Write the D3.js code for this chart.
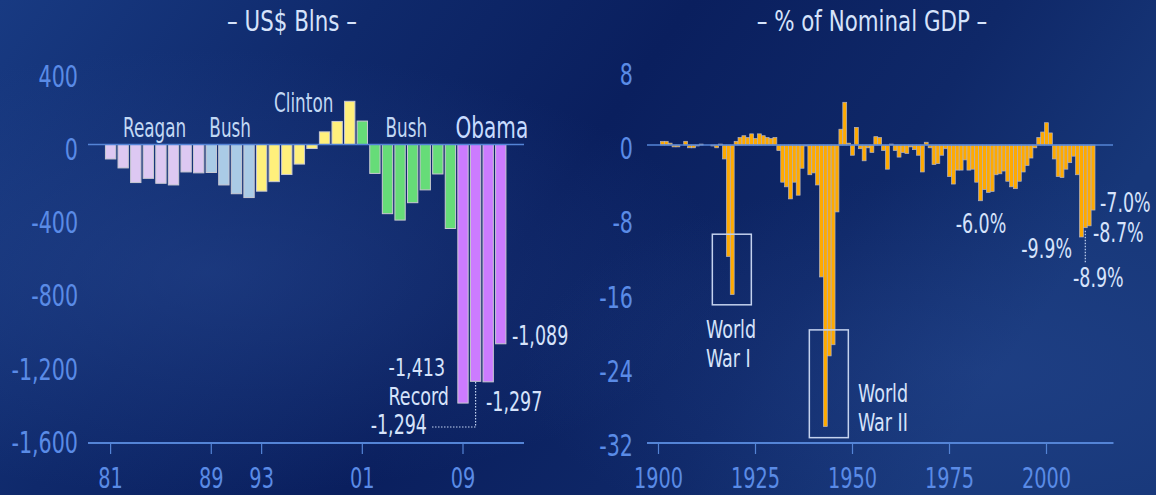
<!DOCTYPE html>
<html><head><meta charset="utf-8">
<script src="https://cdn.jsdelivr.net/npm/d3@7"></script>
<style>html,body{margin:0;padding:0;background:#0c2464;overflow:hidden}</style>
</head><body>
<svg id="c" width="1156" height="495"></svg>
<script>
// ---------- DATA ----------
const usYears = d3.range(1981, 2013);
const usDeficit = [-79, -128, -208, -185, -212, -221, -150, -155, -153, -221, -269, -290,
  -255, -203, -164, -107, -22, 69, 126, 236, 128, -158, -378, -413, -318, -248, -161, -459,
  -1413, -1294, -1297, -1089];
const presidents = ["Reagan", "Bush", "Clinton", "Bush", "Obama"];
const presFrom = [1981, 1989, 1993, 2001, 2009];
const presTo = [1988, 1992, 2000, 2008, 2012];
const usTickYears = [1981, 1989, 1993, 2001, 2009];
const usTickLabels = ["81", "89", "93", "01", "09"];
const usYTicks = [400, 0, -400, -800, -1200, -1600];

const gdpYears = d3.range(1901, 2013);
const gdpDeficit = [
  0.4, 0.4, 0.2, -0.2, -0.2, 0.0, 0.4, -0.3, -0.3, -0.1,       // 1901-1910
  0.1, 0.0, 0.0, -0.1, -0.3, 0.1, -1.5, -12.0, -16.1, 0.4,    // 1911-1920
  0.8, 1.0, 0.8, 1.2, 0.7, 1.2, 1.0, 0.8, 0.7, 0.8,           // 1921-1930
  -0.6, -4.0, -4.5, -5.8, -4.0, -5.4, -2.5, -0.1, -3.2, -3.0, // 1931-1940
  -4.3, -14.2, -30.3, -22.7, -21.5, -7.2, 1.7, 4.6, 0.2, -1.1,// 1941-1950
  1.9, -0.4, -1.7, -0.3, -0.8, 0.9, 0.8, -0.6, -2.6, 0.1,     // 1951-1960
  -0.6, -1.3, -0.8, -0.9, -0.2, -0.5, -1.1, -2.9, 0.3, -0.3,  // 1961-1970
  -2.1, -2.0, -1.1, -0.4, -3.4, -4.2, -2.7, -2.7, -1.6, -2.7, // 1971-1980
  -2.6, -4.0, -6.0, -4.8, -5.1, -5.0, -3.2, -3.1, -2.8, -3.9, // 1981-1990
  -4.5, -4.7, -3.9, -2.9, -2.2, -1.4, -0.3, 0.8, 1.4, 2.4,    // 1991-2000
  1.3, -1.5, -3.4, -3.5, -2.6, -1.9, -1.2, -3.2, -9.9, -8.9,  // 2001-2010
  -8.7, -7.0                                                   // 2011-2012
];
const gdpTickYears = [1900, 1925, 1950, 1975, 2000];
const gdpYTicks = [8, 0, -8, -16, -24, -32];

// ---------- STYLE ----------
const FONT = "'DejaVu Sans Condensed','Liberation Sans Narrow','DejaVu Sans',sans-serif";
const TXT = "#d6e3fb";
const TICK = "#5a8be6";
const AXIS = "#5484d6";
const presColors = ["#ddc8f2", "#aacbe6", "#fff07c", "#66dc78", "#cc7bff"];

const svg = d3.select("#c");

// background
const defs = svg.append("defs");
const lg = defs.append("linearGradient").attr("id", "bg").attr("x1", 0).attr("y1", 0).attr("x2", 1).attr("y2", 0.3);
[[0, "#183a82"], [0.3, "#0f296b"], [0.55, "#0a1f5e"], [0.8, "#0f2868"], [1, "#173779"]]
  .forEach(([o, c]) => lg.append("stop").attr("offset", o).attr("stop-color", c));
const rg = defs.append("radialGradient").attr("id", "glow").attr("cx", 0.18).attr("cy", 0.55).attr("r", 0.45);
rg.append("stop").attr("offset", 0).attr("stop-color", "#2a4c96").attr("stop-opacity", 0.45);
rg.append("stop").attr("offset", 1).attr("stop-color", "#2a4c96").attr("stop-opacity", 0);
const rg2 = defs.append("radialGradient").attr("id", "glow2").attr("cx", 0.85).attr("cy", 0.75).attr("r", 0.4);
rg2.append("stop").attr("offset", 0).attr("stop-color", "#2a4c96").attr("stop-opacity", 0.35);
rg2.append("stop").attr("offset", 1).attr("stop-color", "#2a4c96").attr("stop-opacity", 0);
svg.append("rect").attr("width", 1156).attr("height", 495).attr("fill", "url(#bg)");
svg.append("rect").attr("width", 1156).attr("height", 495).attr("fill", "url(#glow)");
svg.append("rect").attr("width", 1156).attr("height", 495).attr("fill", "url(#glow2)");

// condensed text helper (horizontal squeeze to mimic a condensed face)
// s may be an array of lines, drawn as tspans with line spacing lh
function text(g, x, y, s, size, color, anchor, sx, lh) {
  const t = g.append("text")
    .attr("transform", `translate(${x},${y}) scale(${sx || 0.72},1)`)
    .attr("font-family", FONT).attr("font-size", size).attr("fill", color)
    .attr("text-anchor", anchor || "middle");
  if (Array.isArray(s)) {
    s.forEach((line, i) => t.append("tspan").attr("x", 0).attr("y", i * (lh || 26)).text(line));
  } else t.text(s);
  return t;
}
const num = v => d3.format(",")(v).replace("−", "-");
const ANN = 27;      // annotation size
const ANN2 = 25;     // two-line annotation size
const TK = 30;       // y tick label size
const XTK = 29;      // x tick label size

// ---------- LEFT CHART ----------
const L = svg.append("g");
const xL = d3.scaleLinear().domain([1981, 2009]).range([110.6, 463]);
const yL = d3.scaleLinear().domain([-1600, 400]).range([437.3, 71.3]);
const bwL = (xL(1982) - xL(1981)) * 0.82;
const presIdx = yr => presFrom.findIndex((f, i) => yr >= f && yr <= presTo[i]);

text(L, 292, 31, "– US$ Blns –", 29, TXT, "middle", 0.82);

usYTicks.forEach(v => text(L, 78, yL(v) + 15.5, num(v), TK, TICK, "end", 0.765));

L.selectAll("rect.bar").data(usYears).join("rect")
  .attr("x", d => xL(d) - bwL / 2)
  .attr("width", bwL)
  .attr("y", (d, i) => Math.min(yL(0), yL(usDeficit[i])))
  .attr("height", (d, i) => Math.abs(yL(usDeficit[i]) - yL(0)))
  .attr("fill", d => presColors[presIdx(d)])
  .attr("stroke", "#c9c9d2").attr("stroke-width", 1);

L.append("line").attr("x1", 88).attr("x2", 524).attr("y1", yL(0)).attr("y2", yL(0))
  .attr("stroke", AXIS).attr("stroke-width", 1.5);

// bottom axis
L.append("line").attr("x1", 88).attr("x2", 524).attr("y1", 443).attr("y2", 443)
  .attr("stroke", AXIS).attr("stroke-width", 2);
usTickYears.forEach((yr, i) => {
  L.append("line").attr("x1", xL(yr)).attr("x2", xL(yr)).attr("y1", 443).attr("y2", 454)
    .attr("stroke", AXIS).attr("stroke-width", 1.2);
  text(L, xL(yr), 488, usTickLabels[i], XTK, TICK, "middle", 0.74);
});

// president labels
const presLabelY = [137, 137, 112, 137, 138];
const presLabelDx = [0, 0, -2, 0, 10];
presidents.forEach((p, i) => {
  text(L, xL((presFrom[i] + presTo[i]) / 2) + presLabelDx[i], presLabelY[i], p,
    i === 4 ? 31 : 26, i === 4 ? "#c8dcff" : "#c2d8f4", "middle", 0.72);
});

// value annotations
const idx = yr => usYears.indexOf(yr);
text(L, xL(2012) + bwL / 2 + 6, 345, num(usDeficit[idx(2012)]), ANN, TXT, "start");
const recLbl = text(L, 449, 375.5, [num(usDeficit[idx(2009)]), "Record"], ANN2, TXT, "end", 0.78, 29.5);
recLbl.select("tspan").attr("x", -5);
text(L, xL(2011) - bwL / 2 + 3, 411, num(usDeficit[idx(2011)]), ANN, TXT, "start");
text(L, 427, 434, num(usDeficit[idx(2010)]), ANN, TXT, "end");
L.append("path")
  .attr("d", `M${432},${427} H${xL(2010)} V${yL(usDeficit[idx(2010)])}`)
  .attr("fill", "none").attr("stroke", "#c4d4f2").attr("stroke-width", 1.2)
  .attr("stroke-dasharray", "1.5,1.5");

// ---------- RIGHT CHART ----------
const R = svg.append("g");
const xR = d3.scaleLinear().domain([1900, 2000]).range([658.5, 1046.5]);
const yR = d3.scaleLinear().domain([-32, 8]).range([442.3, 70.7]);
const bwR = xR(1901) - xR(1900);

text(R, 872, 31, "– % of Nominal GDP –", 29, TXT, "middle", 0.82);
gdpYTicks.forEach(v => text(R, 633, yR(v) + 14, num(v), TK, TICK, "end", 0.765));

R.selectAll("rect.bar").data(gdpYears).join("rect")
  .attr("x", d => xR(d) - bwR / 2)
  .attr("width", bwR)
  .attr("y", (d, i) => Math.min(yR(0), yR(gdpDeficit[i])))
  .attr("height", (d, i) => Math.abs(yR(gdpDeficit[i]) - yR(0)))
  .attr("fill", "#ffaa00")
  .attr("stroke", "#b4b4c4").attr("stroke-width", 0.7);

R.append("line").attr("x1", 647).attr("x2", 1113).attr("y1", yR(0)).attr("y2", yR(0))
  .attr("stroke", AXIS).attr("stroke-width", 1.5);

R.append("line").attr("x1", 647).attr("x2", 1113.5).attr("y1", 443).attr("y2", 443)
  .attr("stroke", AXIS).attr("stroke-width", 2);
gdpTickYears.forEach(yr => {
  R.append("line").attr("x1", xR(yr)).attr("x2", xR(yr)).attr("y1", 443).attr("y2", 454)
    .attr("stroke", AXIS).attr("stroke-width", 1.2);
  text(R, xR(yr), 488, yr, XTK, TICK, "middle", 0.74);
});

// war boxes
function warBox(yrCenter, vTop, vBot) {
  R.append("rect").attr("x", xR(yrCenter) - 19.5).attr("width", 39)
    .attr("y", yR(vTop)).attr("height", yR(vBot) - yR(vTop))
    .attr("fill", "none").attr("stroke", "#c4d2ee").attr("stroke-width", 1.5);
}
warBox(1918.9, -9.6, -17.2);
warBox(1943.9, -19.9, -31.5);
text(R, 706, 337.5, ["World", "War I"], ANN2, TXT, "start", 0.78, 29.5);
text(R, 858, 401.5, ["World", "War II"], ANN2, TXT, "start", 0.78, 29.5);

const gi = yr => gdpYears.indexOf(yr);
const pct = v => d3.format(".1f")(v).replace("−", "-") + "%";
text(R, 981, 233, pct(gdpDeficit[gi(1983)]), ANN, TXT);
text(R, 1072, 258, pct(gdpDeficit[gi(2009)]), ANN, TXT, "end");
text(R, 1073, 287, pct(gdpDeficit[gi(2010)]), ANN, TXT, "start");
text(R, 1093, 242, pct(gdpDeficit[gi(2011)]), ANN, TXT, "start");
text(R, 1100, 212, pct(gdpDeficit[gi(2012)]), ANN, TXT, "start");
R.append("line").attr("x1", xR(2010)).attr("x2", xR(2010))
  .attr("y1", yR(gdpDeficit[gi(2010)]) + 3).attr("y2", 263)
  .attr("stroke", "#c4d4f2").attr("stroke-width", 1.2).attr("stroke-dasharray", "1.5,1.5");
</script>
</body></html>
